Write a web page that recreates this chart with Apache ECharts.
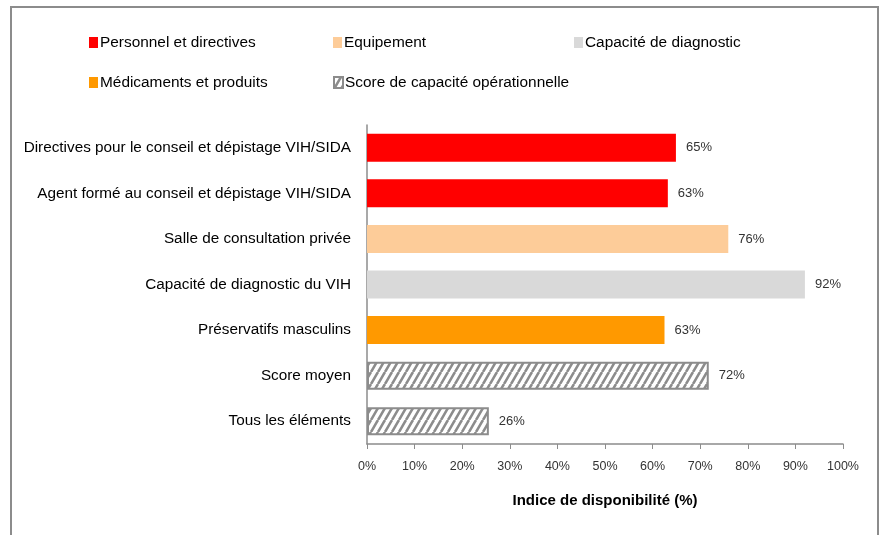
<!DOCTYPE html>
<html lang="fr">
<head>
  <meta charset="UTF-8">
  <title>Indice de disponibilité</title>
  <script src="https://cdn.jsdelivr.net/npm/echarts@6/dist/echarts.min.js"></script>
  <style>
    html, body { margin: 0; padding: 0; background: #fff; }
    #main { width: 880px; height: 535px; }
  </style>
</head>
<body>
  <div id="main"></div>
  <script>
    // categories (top to bottom)
    var categories = [
      'Directives pour le conseil et dépistage VIH/SIDA',
      'Agent formé au conseil et dépistage VIH/SIDA',
      'Salle de consultation privée',
      'Capacité de diagnostic du VIH',
      'Préservatifs masculins',
      'Score moyen',
      'Tous les éléments'
    ]
    // one array per legend group, '-' where the group has no bar
    var personnel   = [64.9, 63.2, '-', '-', '-', '-', '-']
    var equipement  = ['-', '-', 75.9, '-', '-', '-', '-']
    var diagnostic  = ['-', '-', '-', 92.0, '-', '-', '-']
    var medicaments = ['-', '-', '-', '-', 62.5, '-', '-']
    var score       = ['-', '-', '-', '-', '-', 71.8, 25.6]

    var groupNames = [
      'Personnel et directives',
      'Equipement',
      'Capacité de diagnostic',
      'Médicaments et produits',
      'Score de capacité opérationnelle'
    ]
    var groupColors = ['#ff0000', '#fdcc99', '#d9d9d9', '#ff9900', null]

    var font = '"Liberation Sans Narrow", "Liberation Sans", Arial, sans-serif'

    // hatch pattern for the score bars (steep diagonal stripes)
    var hatch = document.createElement('canvas')
    hatch.width = 7
    hatch.height = 12
    var hc = hatch.getContext('2d')
    hc.fillStyle = '#fff'
    hc.fillRect(0, 0, 7, 12)
    hc.strokeStyle = '#8c8c8c'
    hc.lineWidth = 2.6
    hc.beginPath()
    for (var k = -7; k <= 14; k += 7) {
      hc.moveTo(k, 12)
      hc.lineTo(k + 7, 0)
    }
    hc.stroke()

    var chart = echarts.init(document.getElementById('main'))

    var makeSeries = (name, data, color) => {
      var s = {
        name: name,
        type: 'bar',
        stack: 'all',
        barWidth: 28,
        data: data,
        itemStyle: color ? { color: color } : {
          color: { image: hatch, repeat: 'repeat' },
          borderColor: '#8c8c8c',
          borderWidth: 2
        },
        label: {
          show: true,
          position: 'right',
          distance: 10,
          fontFamily: font,
          fontSize: 13,
          color: '#333',
          formatter: p => Math.round(p.value) + '%'
        }
      }
      return s
    }

    var dataSets = [personnel, equipement, diagnostic, medicaments, score]

    // legend positions: two rows, three columns
    var legendPos = [
      [89, 35], [333, 35], [574, 35],
      [89, 75], [333, 75]
    ]

    var legends = groupNames.map((n, i) => ({
      data: [n],
      left: legendPos[i][0],
      top: legendPos[i][1],
      itemWidth: 9,
      itemHeight: 11,
      itemGap: 0,
      icon: 'rect',
      padding: 0,
      selectedMode: false,
      textStyle: { fontFamily: font, fontSize: 15.4, color: '#000', padding: [0, 0, 0, -3] }
    }))

    var option = {
      animation: false,
      backgroundColor: '#fff',
      legend: legends,
      grid: { left: 367, right: 37, top: 125, bottom: 91, containLabel: false },
      xAxis: {
        type: 'value',
        min: 0,
        max: 100,
        interval: 10,
        name: 'Indice de disponibilité (%)',
        nameLocation: 'middle',
        nameGap: 49,
        nameTextStyle: { fontFamily: font, fontSize: 15, fontWeight: 'bold', color: '#000' },
        axisLine: { show: true, lineStyle: { color: '#8c8c8c', width: 1.5 } },
        axisTick: { show: true, length: 5, lineStyle: { color: '#8c8c8c' } },
        axisLabel: { formatter: '{value}%', fontFamily: font, fontSize: 12.5, color: '#333', margin: 16 },
        splitLine: { show: false }
      },
      yAxis: {
        type: 'category',
        inverse: true,
        data: categories,
        axisLine: { show: true, lineStyle: { color: '#8c8c8c', width: 1.5 } },
        axisTick: { show: false },
        axisLabel: { fontFamily: font, fontSize: 15.3, color: '#000', margin: 16 }
      },
      graphic: [{
        type: 'rect',
        shape: { x: 11, y: 7, width: 867, height: 540 },
        style: { fill: 'none', stroke: '#8c8c8c', lineWidth: 2 },
        silent: true
      }],
      series: dataSets.map((d, i) => makeSeries(groupNames[i], d, groupColors[i]))
    }

    chart.setOption(option)
  </script>
</body>
</html>
